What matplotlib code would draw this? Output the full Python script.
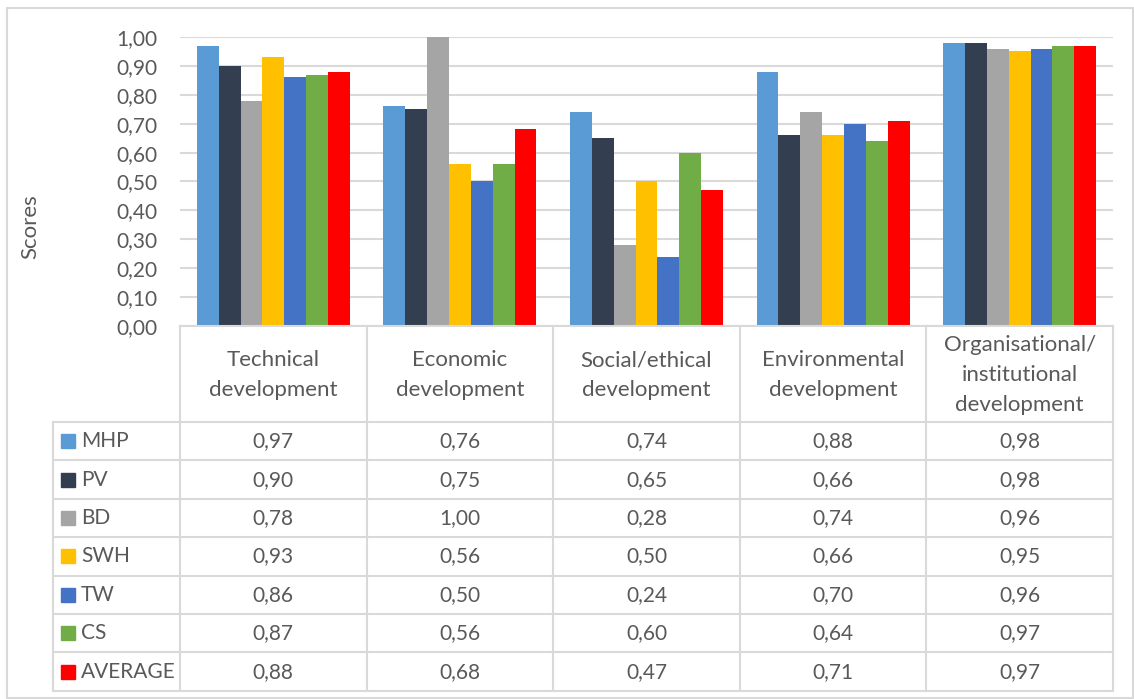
import matplotlib
matplotlib.use("Agg")
import matplotlib.pyplot as plt
from matplotlib.patches import Rectangle
import numpy as np

categories = [
    "Technical\ndevelopment",
    "Economic\ndevelopment",
    "Social/ethical\ndevelopment",
    "Environmental\ndevelopment",
    "Organisational/\ninstitutional\ndevelopment",
]
series_names = ["MHP", "PV", "BD", "SWH", "TW", "CS", "AVERAGE"]
mhp = [0.97, 0.76, 0.74, 0.88, 0.98]
pv = [0.90, 0.75, 0.65, 0.66, 0.98]
bd = [0.78, 1.00, 0.28, 0.74, 0.96]
swh = [0.93, 0.56, 0.50, 0.66, 0.95]
tw = [0.86, 0.50, 0.24, 0.70, 0.96]
cs = [0.87, 0.56, 0.60, 0.64, 0.97]
average = [0.88, 0.68, 0.47, 0.71, 0.97]
series_values = [mhp, pv, bd, swh, tw, cs, average]
colors = ["#5B9BD5", "#333F50", "#A5A5A5", "#FFC000", "#4472C4", "#70AD47", "#FF0000"]
yticks = np.arange(0, 1.01, 0.1)

W, H = 1134, 699
FONT = "Lato"
TXT = "#595959"
GRID = "#D9D9D9"
FS = 15

fig = plt.figure(figsize=(W / 100, H / 100), dpi=100)

# pixel layout
px_left, px_right = 180, 1113
px_top, px_bottom = 37, 326
head_bottom = 422
row_h = 38.4
leg_left = 53

ax = fig.add_axes([px_left / W, 1 - px_bottom / H,
                   (px_right - px_left) / W, (px_bottom - px_top) / H])
n_cat = len(categories)
n_ser = len(series_names)
bw = 0.82 / n_ser
x = np.arange(n_cat)
for i, (name, vals) in enumerate(zip(series_names, series_values)):
    ax.bar(x - 0.41 + bw * (i + 0.5), vals, width=bw, color=colors[i],
           label=name, zorder=3)
ax.set_xlim(-0.5, n_cat - 0.5)
ax.set_ylim(0, 1.0)
ax.set_yticks(yticks)
ax.set_yticklabels([f"{v:.2f}".replace(".", ",") for v in yticks],
                   fontsize=FS, color=TXT, family=FONT)
ax.tick_params(axis="y", length=0, pad=16)
ax.set_xticks([])
ax.grid(axis="y", color=GRID, linewidth=1.5, zorder=0)
for s in ax.spines.values():
    s.set_visible(False)

# overlay axes in pixel coordinates for table and frame
bg = fig.add_axes([0, 0, 1, 1], zorder=-1)
bg.set_xlim(0, W)
bg.set_ylim(H, 0)
bg.axis("off")
ov = fig.add_axes([0, 0, 1, 1], zorder=5)
ov.set_xlim(0, W)
ov.set_ylim(H, 0)
ov.axis("off")
ov.patch.set_alpha(0)

bg.add_patch(Rectangle((7, 8), W - 8, H - 9, fill=False, edgecolor=GRID, linewidth=1.5))

col_w = (px_right - px_left) / n_cat
table_bottom = head_bottom + row_h * n_ser
lw = 1.5
# horizontal lines
ov.plot([px_left, px_right], [px_bottom, px_bottom], color=GRID, lw=lw)
for r in range(n_ser + 1):
    y = head_bottom + r * row_h
    ov.plot([leg_left, px_right], [y, y], color=GRID, lw=lw)
# vertical lines
for c in range(n_cat + 1):
    xc = px_left + c * col_w
    ov.plot([xc, xc], [px_bottom, table_bottom], color=GRID, lw=lw)
ov.plot([leg_left, leg_left], [head_bottom, table_bottom], color=GRID, lw=lw)

# header text
for c, cat in enumerate(categories):
    ov.text(px_left + (c + 0.5) * col_w, (px_bottom + head_bottom) / 2 + 1, cat,
            ha="center", va="center", fontsize=16, color=TXT, family=FONT,
            linespacing=1.62)

# rows
for r, (name, vals) in enumerate(zip(series_names, series_values)):
    yc = head_bottom + (r + 0.5) * row_h
    ov.add_patch(Rectangle((61, yc - 7), 14, 14, color=colors[r]))
    ov.text(81, yc, name, ha="left", va="center", fontsize=FS, color=TXT, family=FONT)
    for c, v in enumerate(vals):
        ov.text(px_left + (c + 0.5) * col_w, yc, f"{v:.2f}".replace(".", ","),
                ha="center", va="center", fontsize=FS, color=TXT, family=FONT)

fig.text(30 / W, 1 - 227 / H, "Scores", rotation=90, ha="center", va="center",
         fontsize=16, color=TXT, family=FONT)

fig.savefig("out.png", dpi=100)
